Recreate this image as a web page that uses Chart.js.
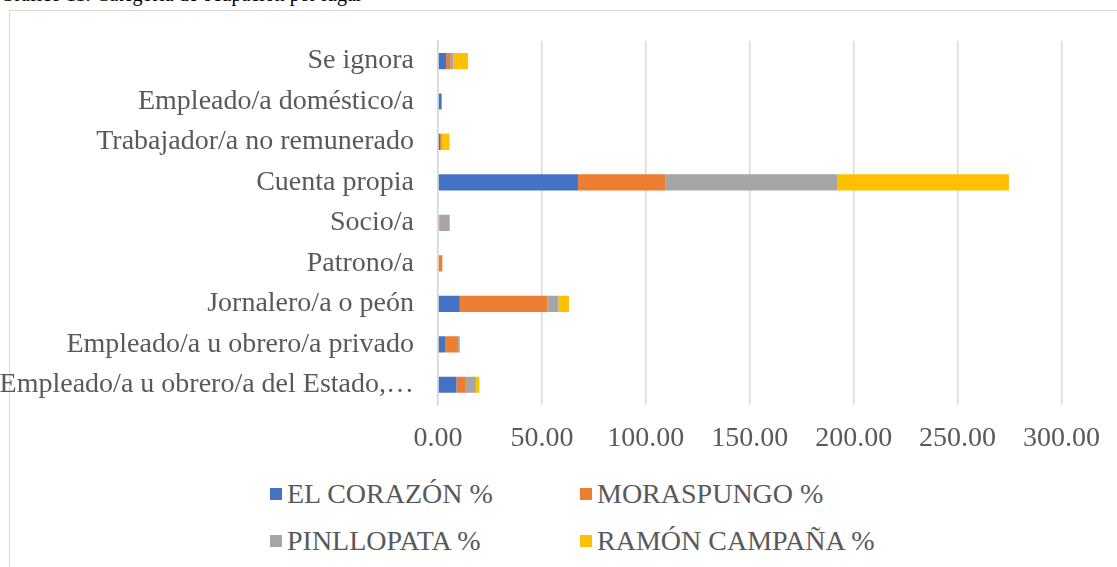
<!DOCTYPE html>
<html lang="es">
<head>
<meta charset="utf-8">
<script src="https://cdn.jsdelivr.net/npm/chart.js@4.4.1/dist/chart.umd.min.js"></script>
<style>
  html, body { margin: 0; padding: 0; background: #fff; overflow: hidden; }
  body { width: 1117px; height: 567px; position: relative; font-family: "Liberation Serif", "Times New Roman", serif; }
  .caption { position: absolute; left: 0; top: -16px; font-size: 20px; line-height: 20px; color: #000; white-space: nowrap; }
  .frame { position: absolute; left: 9px; top: 10px; width: 1200px; height: 600px; border: 1px solid #d9d9d9; background: #fff; }
  .chart-box { position: absolute; left: 0; top: 0; width: 1117px; height: 470px; }
  #legend { position: absolute; left: 270px; top: 470px; display: grid; grid-template-columns: 310px 310px; grid-auto-rows: 47px; align-items: center; }
  .item { display: flex; align-items: center; font-size: 28px; line-height: 32px; color: #595959; white-space: nowrap; }
  .item span.box { width: 12px; height: 12px; margin-right: 5px; display: inline-block; }
</style>
</head>
<body>
<div class="caption">Gráfico 11: Categoría de ocupación por lugar</div>
<div class="frame"></div>
<div class="chart-box"><canvas id="chart"></canvas></div>
<div id="legend"></div>

<script>
// categorias (de abajo hacia arriba, como en la tabla)
const categories = [
    'Empleado/a u obrero/a del Estado, Municipio o Consejo Provincial',
    'Empleado/a u obrero/a privado',
    'Jornalero/a o peón',
    'Patrono/a',
    'Socio/a',
    'Cuenta propia',
    'Trabajador/a no remunerado',
    'Empleado/a doméstico/a',
    'Se ignora'
];

const elCorazon    = [8.9, 3.6, 10.5, 0.0, 0.0, 67.4, 1.0, 1.5, 3.9];
const moraspungo   = [4.5, 6.0, 42.2, 2.1, 0.6, 41.9, 0.8, 0.4, 1.9];
const pinllopata   = [4.8, 0.5, 5.2, 0.0, 4.8, 82.7, 0.0, 0.0, 1.6];
const ramonCampana = [1.7, 0.5, 5.1, 0.0, 0.4, 82.7, 3.7, 0.0, 7.0];

const xTicks = [0, 50, 100, 150, 200, 250, 300];

const series = [
    { label: 'EL CORAZÓN %', data: elCorazon, color: '#4472C4' },
    { label: 'MORASPUNGO %', data: moraspungo, color: '#ED7D31' },
    { label: 'PINLLOPATA %', data: pinllopata, color: '#A5A5A5' },
    { label: 'RAMÓN CAMPAÑA %', data: ramonCampana, color: '#FFC000' }
];

const fontFamily = '"Liberation Serif", "Times New Roman", serif';
const textColor = '#595959';

const chart = new Chart(document.getElementById('chart'), {
    type: 'bar',
    data: {
        labels: categories,
        datasets: series.map(s => ({
            label: s.label,
            data: s.data,
            backgroundColor: s.color,
            borderWidth: 0,
            barPercentage: 0.4,
            categoryPercentage: 1
        }))
    },
    options: {
        indexAxis: 'y',
        responsive: true,
        maintainAspectRatio: false,
        animation: false,
        layout: { padding: { top: 39, right: 55, bottom: 15, left: 0 } },
        plugins: {
            legend: { display: false },
            tooltip: { enabled: false }
        },
        scales: {
            x: {
                stacked: true,
                min: xTicks[0],
                max: xTicks[xTicks.length - 1],
                afterBuildTicks: scale => { scale.ticks = xTicks.map(v => ({ value: v })); },
                afterFit: scale => { scale.height = 50; },
                ticks: {
                    padding: 17,
                    color: textColor,
                    font: { family: fontFamily, size: 28 },
                    callback: v => Number(v).toFixed(2)
                },
                grid: { color: '#d9d9d9', lineWidth: 1.5, drawTicks: false },
                border: { display: false }
            },
            y: {
                stacked: true,
                reverse: true,
                afterFit: scale => { scale.width = 438; },
                ticks: {
                    padding: 24,
                    autoSkip: false,
                    color: textColor,
                    font: { family: fontFamily, size: 28 },
                    callback: function (v) {
                        const s = this.getLabelForValue(v);
                        return s.length > 34 ? s.slice(0, 33) + '…' : s;
                    }
                },
                grid: { display: false, drawTicks: false },
                border: { color: '#d9d9d9', width: 1.5 }
            }
        }
    }
});

// leyenda en dos columnas
const legend = document.getElementById('legend');
chart.data.datasets.forEach(ds => {
    const item = document.createElement('div');
    item.className = 'item';
    item.innerHTML = '<span class="box" style="background:' + ds.backgroundColor + '"></span>' + ds.label;
    legend.appendChild(item);
});
</script>
</body>
</html>
